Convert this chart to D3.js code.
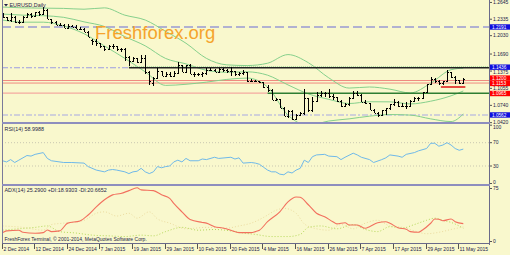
<!DOCTYPE html>
<html><head><meta charset="utf-8">
<script src="https://cdn.jsdelivr.net/npm/d3@7"></script>
<style>html,body{margin:0;padding:0;background:#f9f8cd;}svg{display:block;}</style>
</head><body><svg id="c" width="510" height="255"></svg>
<script>
// ---------- DATA ----------
const dateLabels = ["2 Dec 2014","12 Dec 2014","24 Dec 2014","7 Jan 2015","19 Jan 2015","29 Jan 2015","10 Feb 2015","20 Feb 2015","4 Mar 2015","16 Mar 2015","26 Mar 2015","7 Apr 2015","17 Apr 2015","29 Apr 2015","11 May 2015"];
const dateLabelIdx = [0,8,16,24,32,40,48,56,64,72,80,88,96,104,112];

const opens = [1.2452,1.2381,1.2312,1.2378,1.2288,1.2290,1.2380,1.2440,1.2390,1.2465,
1.2435,1.2500,1.2335,1.2290,1.2230,1.2230,1.2180,1.2200,1.2195,1.2158,
1.2160,1.2100,1.1950,1.1935,1.1890,1.1840,1.1790,1.1840,1.1830,1.1780,
1.1790,1.1630,1.1565,1.1615,1.1545,1.1610,1.1365,1.1150,1.1240,1.1380,
1.1290,1.1320,1.1290,1.1345,1.1480,1.1350,1.1480,1.1315,1.1320,1.1320,
1.1340,1.1400,1.1390,1.1360,1.1410,1.1400,1.1375,1.1380,1.1325,1.1335,
1.1350,1.1200,1.1195,1.1185,1.1175,1.1075,1.1030,1.0845,1.0850,1.0700,
1.0550,1.0640,1.0495,1.0570,1.0590,1.0880,1.0660,1.0820,1.0940,1.0970,
1.0960,1.0910,1.0890,1.0830,1.0730,1.0760,1.0885,1.0970,1.0925,1.0805,
1.0785,1.0660,1.0600,1.0570,1.0650,1.0685,1.0760,1.0810,1.0735,1.0730,
1.0725,1.0825,1.0875,1.0885,1.0980,1.1130,1.1225,1.1200,1.1145,1.1185,
1.1350,1.1265,1.1205,1.1150];
const highs = [1.2456,1.2383,1.2456,1.2389,1.2321,1.2394,1.2457,1.2454,1.2466,1.2485,
1.2570,1.2532,1.2340,1.2296,1.2270,1.2245,1.2237,1.2225,1.2235,1.2185,
1.2170,1.2125,1.1967,1.1960,1.1900,1.1845,1.1850,1.1870,1.1845,1.1810,
1.1800,1.1650,1.1640,1.1620,1.1680,1.1680,1.1375,1.1270,1.1423,1.1385,
1.1365,1.1350,1.1370,1.1535,1.1495,1.1490,1.1500,1.1350,1.1340,1.1350,
1.1430,1.1440,1.1410,1.1430,1.1440,1.1410,1.1450,1.1380,1.1360,1.1390,
1.1360,1.1235,1.1215,1.1200,1.1180,1.1115,1.1035,1.0870,1.0860,1.0710,
1.0660,1.0650,1.0580,1.0610,1.1045,1.0880,1.0890,1.0990,1.1000,1.0990,
1.1050,1.0950,1.0900,1.0835,1.0790,1.0900,1.1000,1.1010,1.0945,1.0835,
1.0790,1.0670,1.0620,1.0660,1.0690,1.0770,1.0850,1.0815,1.0790,1.0805,
1.0845,1.0890,1.0900,1.0990,1.1140,1.1265,1.1240,1.1210,1.1200,1.1390,
1.1365,1.1290,1.1215,1.1250];
const lows = [1.2358,1.2298,1.2280,1.2268,1.2247,1.2270,1.2350,1.2360,1.2370,1.2390,
1.2414,1.2330,1.2240,1.2220,1.2220,1.2165,1.2180,1.2190,1.2155,1.2140,
1.2095,1.2000,1.1860,1.1840,1.1810,1.1755,1.1770,1.1790,1.1750,1.1730,
1.1570,1.1460,1.1555,1.1530,1.1540,1.1315,1.1115,1.1098,1.1225,1.1290,
1.1260,1.1260,1.1270,1.1315,1.1350,1.1340,1.1315,1.1270,1.1290,1.1270,
1.1310,1.1375,1.1350,1.1340,1.1355,1.1330,1.1280,1.1290,1.1290,1.1300,
1.1180,1.1175,1.1175,1.1160,1.1060,1.0990,1.0840,1.0820,1.0700,1.0540,
1.0500,1.0460,1.0460,1.0550,1.0570,1.0610,1.0610,1.0810,1.0890,1.0890,
1.0880,1.0840,1.0810,1.0710,1.0710,1.0720,1.0860,1.0915,1.0800,1.0770,
1.0660,1.0590,1.0520,1.0560,1.0560,1.0660,1.0730,1.0710,1.0705,1.0665,
1.0705,1.0800,1.0820,1.0860,1.0960,1.1110,1.1160,1.1120,1.1110,1.1180,
1.1240,1.1140,1.1130,1.1150];
const closes = [1.2381,1.2312,1.2378,1.2288,1.2290,1.2380,1.2440,1.2390,1.2465,1.2435,
1.2500,1.2335,1.2290,1.2230,1.2230,1.2180,1.2200,1.2195,1.2158,1.2160,
1.2100,1.2005,1.1935,1.1890,1.1840,1.1790,1.1840,1.1830,1.1780,1.1790,
1.1630,1.1565,1.1615,1.1545,1.1610,1.1365,1.1200,1.1240,1.1380,1.1290,
1.1320,1.1290,1.1345,1.1480,1.1350,1.1480,1.1315,1.1320,1.1320,1.1340,
1.1400,1.1390,1.1360,1.1410,1.1400,1.1375,1.1380,1.1325,1.1335,1.1350,
1.1200,1.1195,1.1185,1.1175,1.1075,1.1030,1.0845,1.0850,1.0700,1.0550,
1.0640,1.0495,1.0570,1.0590,1.0880,1.0660,1.0820,1.0940,1.0970,1.0960,
1.0910,1.0890,1.0830,1.0730,1.0760,1.0885,1.0970,1.0925,1.0805,1.0785,
1.0660,1.0600,1.0570,1.0650,1.0685,1.0760,1.0810,1.0735,1.0730,1.0725,
1.0825,1.0875,1.0885,1.0980,1.1130,1.1225,1.1200,1.1145,1.1185,1.1350,
1.1265,1.1205,1.1150,1.1220];

const bbIdx   = [0,5,10,15,20,25,30,35,40,45,50,55,60,65,70,75,80,85,90,95,100,105,110,113];
const bbUpper = [1.2560,1.2545,1.2540,1.2535,1.2520,1.2545,1.2410,1.2320,1.2110,1.1890,1.1610,1.1490,1.1477,1.1520,1.1680,1.1530,1.1250,1.1060,1.1080,1.1040,1.0970,1.1150,1.1400,1.1430];
const bbMid   = [1.2430,1.2410,1.2400,1.2370,1.2286,1.2200,1.2013,1.1842,1.1608,1.1508,1.1389,1.1352,1.1361,1.1299,1.1119,1.0952,1.0852,1.0774,1.0807,1.0805,1.0767,1.0817,1.0917,1.1006];
const bbLower = [1.2320,1.2280,1.2280,1.2210,1.2066,1.1840,1.1610,1.1360,1.1110,1.1130,1.1170,1.1220,1.1245,1.1080,1.0560,1.0370,1.0450,1.0490,1.0540,1.0570,1.0560,1.0490,1.0440,1.0580];

// price axis
const priceTicks = ["1.2645","1.2335","1.2030","1.1690","1.1375","1.1055","1.0740","1.0420"];
const levelValues = [1.2191,1.1436,1.1200,1.1153,1.0965,1.0562];
const levelLabelColors = ["#1010dd","#1010dd","#ff0000","#ff0000","#ff0000","#1010dd"];
const supportValue = 1.1080, supportFrom = 107.5, supportTo = 113.5;
const blackLineFrom = 31, greenLineFrom = 65;

// RSI
const rsiIdx = [0,1,2,3,4,6,7,8,10,11,12,15,17,20,21,23,25,26,27,28,30,31,32,33,34,35,36,37,38,39,40,41,42,43,44,45,46,48,49,50,52,53,56,57,58,59,61,62,63,64,65,66,67,68,69,70,71,72,73,74,75,76,77,79,80,82,83,84,86,87,88,90,91,93,94,95,97,98,99,101,102,104,105,106,107,108,109,110,111,112,113];
const rsiVal = [39,37,41,36,40,48,47,50,53,43,39,36,36,35,29,23,20,23,24,23,20,17,20,21,26,20,17,20,29,27,29,30,37,40,37,43,39,39,42,41,45,43,45,42,44,35,36,35,33,28,23,20,20,16,15,20,18,23,26,40,36,46,49,50,47,46,41,45,52,49,45,41,36,41,44,49,47,45,50,53,56,60,69,69,64,66,70,66,60,57,59];
const rsiTicks = [100,70,30,0];
const rsiLevels = [70,30];

// ADX
const adxIdx = [0,1,4,5,8,10,11,12,14,16,19,21,23,25,27,29,31,33,34,37,39,41,42,44,46,49,50,52,54,56,58,61,62,63,65,68,70,72,73,75,77,79,81,82,84,85,87,89,90,92,94,95,97,99,100,102,103,105,106,107,108,110,111,113];
const adxVal = [12.5,15,16,13,11.6,12.5,16.3,14,15,26,29,37.5,49,59,66,68,72,76,73,72,66,61,54,42,31,27,26,21,19,16,12.5,12.5,14,16,28,42,56,63,62.5,52,40,35,28,25,26.6,23.3,23.3,18.7,21,26.6,28,25.8,19.5,17.3,14,13,16.3,25.8,31.8,31.4,29.4,31.8,28,25.3];
const minusDiIdx = [0,5,10,12,15,20,23,25,28,31,33,36,38,41,45,50,55,58,61,64,67,69,72,74,77,80,83,86,89,92,95,98,101,104,107,110,113];
const minusDiVal = [22,20,16,24,26,30,40,42,36,40,33,42,32,26,18,20,19,22,26,34,44,47,40,25,18,16,24,18,26,30,22,20,15,11,13,17,20.7];
const plusDiIdx = [0,4,8,11,14,18,22,26,30,34,37,40,44,48,52,56,59,62,66,70,73,75,78,82,86,89,92,95,98,101,104,106,108,110,113];
const plusDiVal = [16,18,20,22,14,12,9,8,7,9,8,14,20,16,17,15,12,10,7,7,10,20,22,18,24,17,14,21,19,24,30,33,30,27,18.9];
const adxTicks = [75,0];

// ---------- DRAW ----------
const svg = d3.select('#c');
const FONT = "'Liberation Sans', Arial, sans-serif";
const X0 = 2, X1 = 489;
const x = d3.scaleLinear().domain([0,119.3]).range([X0+0.5, X1]);
const yP = d3.scaleLinear().domain([1.0432,1.2672]).range([122,1]);
const yR = d3.scaleLinear().domain([0,100]).range([183.5,125.2]);
const yA = d3.scaleLinear().domain([0,75]).range([241.5,188.5]);

svg.append('rect').attr('width',510).attr('height',255).attr('fill','#f9f8cd');

const defs = svg.append('defs');
function clip(id,y0,y1){defs.append('clipPath').attr('id',id).append('rect').attr('x',X0+1).attr('y',y0).attr('width',X1-X0-1).attr('height',y1-y0);}
clip('cm',1,122); clip('cr',124,184); clip('ca',186,243);

const gM = svg.append('g').attr('clip-path','url(#cm)');
const gR = svg.append('g').attr('clip-path','url(#cr)');
const gA = svg.append('g').attr('clip-path','url(#ca)');

const hl = (g,x1,x2,y,stroke,w,dash)=>g.append('line').attr('x1',x1).attr('x2',x2).attr('y1',y).attr('y2',y)
  .attr('stroke',stroke).attr('stroke-width',w).attr('stroke-dasharray',dash||null);
hl(gM,X0,X1,yP(levelValues[0]),'#6b6bd6',1.2,'9,4');
hl(gM,X0,x(blackLineFrom),yP(levelValues[1]),'#9c9ce2',1.2,'6,2,2,2');
hl(gM,X0,X1,yP(levelValues[2]),'#f08a80',1,null);
hl(gM,X0,X1,yP(levelValues[3]),'#f08a80',1,null);
hl(gM,X0,x(greenLineFrom),yP(levelValues[4]),'#f4aaa0',1.2,null);
hl(gM,X0,X1,yP(levelValues[5]),'#a8a8e4',1.2,'6,2,2,2');

const bbLine = (vals)=>d3.line().x((d,i)=>x(bbIdx[i])).y(d=>yP(d)).curve(d3.curveMonotoneX)(vals);
[bbUpper,bbMid,bbLower].forEach(v=>gM.append('path').attr('d',bbLine(v)).attr('fill','none').attr('stroke','#86d08c').attr('stroke-width',1));

hl(gM,x(blackLineFrom),X1,yP(levelValues[1])-1,'#8fd38f',1,'1,1');
hl(gM,x(blackLineFrom),X1,yP(levelValues[1]),'#222222',1.4,null);
hl(gM,x(greenLineFrom),X1,yP(levelValues[4]),'#2e7d32',1.6,null);
hl(gM,x(supportFrom),x(supportTo),yP(supportValue),'#e02020',1.6,null);

const bars = gM.append('g').attr('stroke','#000').attr('stroke-width',1).attr('shape-rendering','crispEdges');
closes.forEach((c,i)=>{
  const cx = Math.round(x(i))+0.5;
  bars.append('line').attr('x1',cx).attr('x2',cx).attr('y1',yP(highs[i])).attr('y2',yP(lows[i]));
  bars.append('line').attr('x1',cx-1.5).attr('x2',cx).attr('y1',Math.round(yP(opens[i]))+0.5).attr('y2',Math.round(yP(opens[i]))+0.5);
  bars.append('line').attr('x1',cx).attr('x2',cx+1.5).attr('y1',Math.round(yP(c))+0.5).attr('y2',Math.round(yP(c))+0.5);
});

svg.append('text').attr('x',95).attr('y',39).attr('font-family',FONT).attr('font-size',18.5)
  .attr('fill','#f5a42c').text('Freshforex.org');

rsiLevels.forEach(v=>hl(gR,X0,X1,yR(v),'#c9c7b0',1,'1,2'));
gR.append('path').attr('d',d3.line().x((d,i)=>x(rsiIdx[i])).y(d=>yR(d))(rsiVal))
  .attr('fill','none').attr('stroke','#6fb9e9').attr('stroke-width',1);

gA.append('path').attr('d',d3.line().x((d,i)=>x(minusDiIdx[i])).y(d=>yA(d)).curve(d3.curveMonotoneX)(minusDiVal))
  .attr('fill','none').attr('stroke','#ecdca0').attr('stroke-width',1).attr('stroke-dasharray','1,2');
gA.append('path').attr('d',d3.line().x((d,i)=>x(plusDiIdx[i])).y(d=>yA(d)).curve(d3.curveMonotoneX)(plusDiVal))
  .attr('fill','none').attr('stroke','#b5d85a').attr('stroke-width',1).attr('stroke-dasharray','1,2');
gA.append('path').attr('d',d3.line().x((d,i)=>x(adxIdx[i])).y(d=>yA(d)).curve(d3.curveMonotoneX)(adxVal))
  .attr('fill','none').attr('stroke','#f2705e').attr('stroke-width',1.1);

const frame = svg.append('g').attr('shape-rendering','crispEdges');
frame.append('line').attr('x1',X0+0.5).attr('x2',X0+0.5).attr('y1',0).attr('y2',244).attr('stroke','#7a7a9a');
frame.append('line').attr('x1',X1+0.5).attr('x2',X1+0.5).attr('y1',0).attr('y2',245).attr('stroke','#6a6a8a');
frame.append('line').attr('x1',X0).attr('x2',X1+1).attr('y1',123).attr('y2',123).attr('stroke','#8e8ebe').attr('stroke-width',2);
frame.append('line').attr('x1',X0).attr('x2',X1+1).attr('y1',185).attr('y2',185).attr('stroke','#8e8ebe').attr('stroke-width',2);
frame.append('line').attr('x1',X0).attr('x2',X1+1).attr('y1',243.5).attr('y2',243.5).attr('stroke','#6a6a8a');

// price axis
const axG = svg.append('g').attr('font-family',FONT).attr('font-size',5).attr('fill','#22224a');
const tickNudge = [0,0,0,0,1.6,0,0,0];
priceTicks.forEach((t,i)=>{
  const y = yP(+t);
  axG.append('line').attr('x1',X1+1).attr('x2',X1+3).attr('y1',y).attr('y2',y).attr('stroke','#555');
  axG.append('text').attr('x',X1+4).attr('y',y+1.8+tickNudge[i]).text(t);
});
const levelNudge = [0,-0.6,-2.4,0.4,0.3,0];
levelValues.forEach((v,i)=>{
  const y = yP(v) + levelNudge[i];
  axG.append('rect').attr('x',X1+1).attr('y',y-2.7).attr('width',20).attr('height',5.4).attr('fill',levelLabelColors[i]);
  axG.append('text').attr('x',X1+3).attr('y',y+1.6).attr('font-size',4.7).attr('fill','#fff').text(v.toFixed(4));
});
const rsiNudge = [2.2,0,0,-1];
rsiTicks.forEach((t,i)=>{
  const y = yR(t);
  axG.append('line').attr('x1',X1+1).attr('x2',X1+3).attr('y1',y).attr('y2',y).attr('stroke','#555');
  axG.append('text').attr('x',X1+4).attr('y',y+1.8+rsiNudge[i]).text(t);
});
adxTicks.forEach(t=>{
  const y = yA(t);
  axG.append('line').attr('x1',X1+1).attr('x2',X1+3).attr('y1',y).attr('y2',y).attr('stroke','#555');
  axG.append('text').attr('x',X1+4).attr('y',y+1.8).text(t);
});

// time axis
dateLabels.forEach((t,i)=>{
  const px = Math.round(x(dateLabelIdx[i]))-0.5;
  axG.append('line').attr('x1',px).attr('x2',px).attr('y1',244).attr('y2',249).attr('stroke','#555').attr('shape-rendering','crispEdges');
  axG.append('text').attr('x',px+1).attr('y',250.5).text(t);
});

// titles
const tG = svg.append('g').attr('font-family',FONT).attr('font-size',5.4).attr('fill','#1e1e46');
tG.append('path').attr('d','M4,4 L8,4 L6,6.5 Z').attr('fill','#1e1e46');
tG.append('text').attr('x',9.5).attr('y',7).text('EURUSD,Daily');
tG.append('text').attr('x',4.5).attr('y',131).text('RSI(14) 58.9988');
tG.append('text').attr('x',4.5).attr('y',192).text('ADX(14) 25.2900  +DI:18.9303  -DI:20.6652');
tG.append('text').attr('x',4.5).attr('y',241).attr('font-size',5).text('FreshForex Terminal, \u00a9 2001-2014, MetaQuotes Software Corp.');
</script></body></html>
